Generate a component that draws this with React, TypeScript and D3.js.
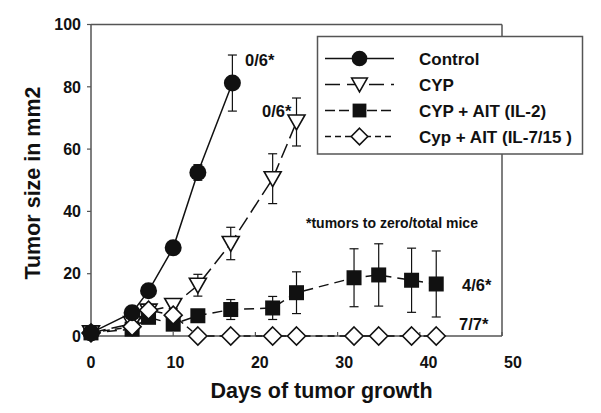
import React from 'react';
import * as d3 from 'd3';

const controlDays = [0, 5, 7, 10, 13, 17.2];
const controlSize = [1, 7.5, 14.5, 28.3, 52.5, 81.2];
const controlErr = [0, 0, 0, 1.5, 2.5, 9];

const cypDays = [0, 5, 7, 10, 13, 17, 22.1, 25];
const cypSize = [1, 4, 8, 9.8, 16.3, 29.7, 50.5, 68.7];
const cypErr = [0, 0, 0, 1, 3.5, 5.2, 8, 7.7];

const il2Days = [0, 5, 7, 10, 13, 17, 22.1, 25, 32, 35, 39, 42];
const il2Size = [1, 2.2, 6, 3.8, 6.5, 8.5, 9, 13.9, 18.7, 19.6, 17.9, 16.7];
const il2Err = [0, 0, 0, 0, 0, 3.2, 3.7, 6.7, 9.3, 10, 10.3, 10.6];

const il715Days = [0, 5, 7, 10, 13, 17, 22.1, 25, 32, 35, 39, 42];
const il715Size = [1, 3, 8.3, 6.7, 0, 0, 0, 0, 0, 0, 0, 0];
const il715Err = [0, 0, 0, 0, 0, 0, 0, 0, 0, 0, 0, 0];

const xTicks = [0, 10, 20, 30, 40, 50];
const yTicks = [0, 20, 40, 60, 80, 100];

const legendLabels = ['Control', 'CYP', 'CYP + AIT (IL-2)', 'Cyp + AIT (IL-7/15 )'];

const FONT = "'Liberation Sans', Arial, Helvetica, sans-serif";

type Kind = 'circle' | 'triangle' | 'square' | 'diamond';

const Marker: React.FC<{ kind: Kind; x: number; y: number; s?: number }> = ({ kind, x, y, s = 1 }) => {
  if (kind === 'circle') return <circle cx={x} cy={y} r={8.5 * s} fill="#111" />;
  if (kind === 'triangle')
    return (
      <path d={`M${x - 8.5 * s},${y - 7 * s}L${x + 8.5 * s},${y - 7 * s}L${x},${y + 8 * s}Z`}
        fill="#fff" stroke="#111" strokeWidth={1.6} />
    );
  if (kind === 'square')
    return <rect x={x - 7.5 * s} y={y - 7.5 * s} width={15 * s} height={15 * s} fill="#111" />;
  return (
    <path d={`M${x},${y - 9 * s}L${x + 9 * s},${y}L${x},${y + 9 * s}L${x - 9 * s},${y}Z`}
      fill="#fff" stroke="#111" strokeWidth={1.6} />
  );
};

export default function App() {
  const width = 601, height = 413;
  const x = d3.scaleLinear().domain([0, 50]).range([91, 502]);
  const y = d3.scaleLinear().domain([0, 100]).range([336, 24.5]);

  const series = [
    { days: il2Days, vals: il2Size, err: il2Err, kind: 'square' as Kind, dash: '10,6' },
    { days: cypDays, vals: cypSize, err: cypErr, kind: 'triangle' as Kind, dash: '15,6' },
    { days: il715Days, vals: il715Size, err: il715Err, kind: 'diamond' as Kind, dash: '7,5' },
    { days: controlDays, vals: controlSize, err: controlErr, kind: 'circle' as Kind, dash: undefined },
  ];

  const line = d3.line<number[]>().x(d => x(d[0])).y(d => y(d[1]));
  const axisColor = '#555';

  const legendItems = [
    { kind: 'circle' as Kind, dash: undefined },
    { kind: 'triangle' as Kind, dash: '15,7' },
    { kind: 'square' as Kind, dash: '10,4' },
    { kind: 'diamond' as Kind, dash: '6,4' },
  ];

  return (
    <svg width={width} height={height} style={{ position: 'absolute', left: 0, top: 0, background: '#fff' }}
      fontFamily={FONT} fontWeight="bold">
      {/* frame */}
      <line x1={x(0)} x2={x(50)} y1={y(100)} y2={y(100)} stroke={axisColor} strokeWidth={1.5} />
      <line x1={x(50)} x2={x(50)} y1={y(100)} y2={y(0)} stroke={axisColor} strokeWidth={1.5} />
      <line x1={x(0)} x2={x(50)} y1={y(0)} y2={y(0)} stroke={axisColor} strokeWidth={1.5} />
      <line x1={x(0)} x2={x(0)} y1={y(100)} y2={y(0)} stroke={axisColor} strokeWidth={1.5} />

      {yTicks.map(t => (
        <g key={'y' + t}>
          <line x1={x(0) - 4} x2={x(0)} y1={y(t)} y2={y(t)} stroke={axisColor} strokeWidth={1.2} />
          <text x={x(0) - 10} y={y(t)} dy="0.36em" textAnchor="end" fontSize={16} fill="#111">{t}</text>
        </g>
      ))}
      {xTicks.map(t => (
        <g key={'x' + t}>
          <line x1={x(t)} x2={x(t)} y1={y(0)} y2={y(0) - 4} stroke={axisColor} strokeWidth={1.2} />
          <text x={x(t) + t * 0.22} y={368} textAnchor="middle" fontSize={16} fill="#111">{t}</text>
        </g>
      ))}

      {/* series lines */}
      {series.map((s, i) => (
        <path key={'l' + i} d={line(s.days.map((d, j) => [d, s.vals[j]])) || ''} fill="none"
          stroke="#111" strokeWidth={1.5} strokeDasharray={s.dash} />
      ))}

      {/* error bars */}
      {series.map((s, i) =>
        s.days.map((d, j) =>
          s.err[j] > 0 ? (
            <g key={'e' + i + '-' + j} stroke="#111" strokeWidth={1.2}>
              <line x1={x(d)} x2={x(d)} y1={y(s.vals[j] + s.err[j])} y2={y(s.vals[j] - s.err[j])} />
              <line x1={x(d) - 4.5} x2={x(d) + 4.5} y1={y(s.vals[j] + s.err[j])} y2={y(s.vals[j] + s.err[j])} />
              <line x1={x(d) - 4.5} x2={x(d) + 4.5} y1={y(s.vals[j] - s.err[j])} y2={y(s.vals[j] - s.err[j])} />
            </g>
          ) : null
        )
      )}

      {/* markers */}
      {series.map((s, i) =>
        s.days.map((d, j) => <Marker key={'m' + i + '-' + j} kind={s.kind} x={x(d)} y={y(s.vals[j])} />)
      )}

      {/* annotations */}
      <text x={245} y={66} fontSize={16.5} fill="#111">0/6*</text>
      <text x={262} y={117} fontSize={16.5} fill="#111">0/6*</text>
      <text x={306} y={228} fontSize={14} fill="#111">*tumors to zero/total mice</text>
      <text x={462} y={291} fontSize={16.5} fill="#111">4/6*</text>
      <text x={459} y={330} fontSize={16.5} fill="#111">7/7*</text>

      {/* legend */}
      <rect x={317.5} y={36.5} width={265} height={117.5} fill="#fff" stroke={axisColor} strokeWidth={1.5} />
      {legendItems.map((l, i) => {
        const ly = 58.5 + i * 26;
        return (
          <g key={'lg' + i}>
            <line x1={325} x2={394} y1={ly} y2={ly} stroke="#111" strokeWidth={1.5} strokeDasharray={l.dash} />
            <Marker kind={l.kind} x={359.5} y={ly} s={0.92} />
            <text x={419} y={ly} dy="0.36em" fontSize={17} fill="#111">{legendLabels[i]}</text>
          </g>
        );
      })}

      {/* axis titles */}
      <text x={321.5} y={398} textAnchor="middle" fontSize={21.5} fill="#111">Days of tumor growth</text>
      <text transform={`translate(40,183) rotate(-90)`} textAnchor="middle" fontSize={21.5} fill="#111">Tumor size in mm2</text>
    </svg>
  );
}
